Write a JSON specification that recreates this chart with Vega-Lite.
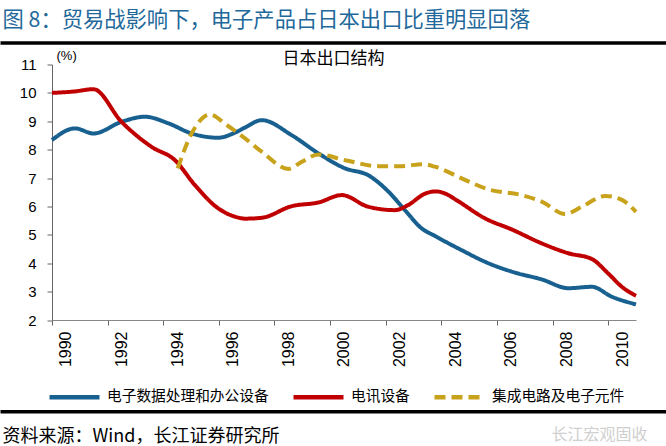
{
  "$schema": "https://vega.github.io/schema/vega-lite/v6.json",
  "width": 584,
  "height": 255.5,
  "autosize": {"type": "none"},
  "padding": {"left": 52, "top": 64.5, "right": 30, "bottom": 126},
  "background": "white",
  "config": {"view": {"stroke": null}, "font": "Liberation Sans"},
  "data": {"values": [
    {"s": "电子数据处理和办公设备", "t": 1990.0, "v": 8.34},
    {"s": "电子数据处理和办公设备", "t": 1990.83, "v": 8.75},
    {"s": "电子数据处理和办公设备", "t": 1991.49, "v": 8.57},
    {"s": "电子数据处理和办公设备", "t": 1992.5, "v": 8.98},
    {"s": "电子数据处理和办公设备", "t": 1993.34, "v": 9.16},
    {"s": "电子数据处理和办公设备", "t": 1994.18, "v": 8.93},
    {"s": "电子数据处理和办公设备", "t": 1995.02, "v": 8.57},
    {"s": "电子数据处理和办公设备", "t": 1995.98, "v": 8.42},
    {"s": "电子数据处理和办公设备", "t": 1996.58, "v": 8.6},
    {"s": "电子数据处理和办公设备", "t": 1996.94, "v": 8.78},
    {"s": "电子数据处理和办公设备", "t": 1997.54, "v": 9.04},
    {"s": "电子数据处理和办公设备", "t": 1998.62, "v": 8.51},
    {"s": "电子数据处理和办公设备", "t": 1999.58, "v": 7.87},
    {"s": "电子数据处理和办公设备", "t": 2000.54, "v": 7.34},
    {"s": "电子数据处理和办公设备", "t": 2001.37, "v": 7.1},
    {"s": "电子数据处理和办公设备", "t": 2002.1, "v": 6.52},
    {"s": "电子数据处理和办公设备", "t": 2002.69, "v": 5.87},
    {"s": "电子数据处理和办公设备", "t": 2003.29, "v": 5.23},
    {"s": "电子数据处理和办公设备", "t": 2003.77, "v": 4.96},
    {"s": "电子数据处理和办公设备", "t": 2004.73, "v": 4.46},
    {"s": "电子数据处理和办公设备", "t": 2005.69, "v": 4.0},
    {"s": "电子数据处理和办公设备", "t": 2006.65, "v": 3.67},
    {"s": "电子数据处理和办公设备", "t": 2007.61, "v": 3.43},
    {"s": "电子数据处理和办公设备", "t": 2008.57, "v": 3.12},
    {"s": "电子数据处理和办公设备", "t": 2009.41, "v": 3.17},
    {"s": "电子数据处理和办公设备", "t": 2010.13, "v": 2.82},
    {"s": "电子数据处理和办公设备", "t": 2011.0, "v": 2.55},
    {"s": "电讯设备", "t": 1990.0, "v": 10.0},
    {"s": "电讯设备", "t": 1990.8, "v": 10.05},
    {"s": "电讯设备", "t": 1991.49, "v": 10.13},
    {"s": "电讯设备", "t": 1992.5, "v": 8.98},
    {"s": "电讯设备", "t": 1993.58, "v": 8.1},
    {"s": "电讯设备", "t": 1994.42, "v": 7.63},
    {"s": "电讯设备", "t": 1995.14, "v": 6.75},
    {"s": "电讯设备", "t": 1995.98, "v": 5.93},
    {"s": "电讯设备", "t": 1996.58, "v": 5.64},
    {"s": "电讯设备", "t": 1996.94, "v": 5.57},
    {"s": "电讯设备", "t": 1997.54, "v": 5.6},
    {"s": "电讯设备", "t": 1998.62, "v": 6.01},
    {"s": "电讯设备", "t": 1999.58, "v": 6.14},
    {"s": "电讯设备", "t": 2000.42, "v": 6.4},
    {"s": "电讯设备", "t": 2001.37, "v": 5.99},
    {"s": "电讯设备", "t": 2002.33, "v": 5.87},
    {"s": "电讯设备", "t": 2002.81, "v": 6.05},
    {"s": "电讯设备", "t": 2003.41, "v": 6.45},
    {"s": "电讯设备", "t": 2003.8, "v": 6.53},
    {"s": "电讯设备", "t": 2004.15, "v": 6.45},
    {"s": "电讯设备", "t": 2004.55, "v": 6.22},
    {"s": "电讯设备", "t": 2005.57, "v": 5.58},
    {"s": "电讯设备", "t": 2006.53, "v": 5.19},
    {"s": "电讯设备", "t": 2007.61, "v": 4.7},
    {"s": "电讯设备", "t": 2008.57, "v": 4.35},
    {"s": "电讯设备", "t": 2009.41, "v": 4.15},
    {"s": "电讯设备", "t": 2010.0, "v": 3.64},
    {"s": "电讯设备", "t": 2010.49, "v": 3.17},
    {"s": "电讯设备", "t": 2011.0, "v": 2.85},
    {"s": "集成电路及电子元件", "t": 1994.52, "v": 7.34},
    {"s": "集成电路及电子元件", "t": 1995.02, "v": 8.57},
    {"s": "集成电路及电子元件", "t": 1995.68, "v": 9.24},
    {"s": "集成电路及电子元件", "t": 1996.28, "v": 8.87},
    {"s": "集成电路及电子元件", "t": 1996.94, "v": 8.4},
    {"s": "集成电路及电子元件", "t": 1997.54, "v": 7.93},
    {"s": "集成电路及电子元件", "t": 1998.5, "v": 7.32},
    {"s": "集成电路及电子元件", "t": 1998.98, "v": 7.57},
    {"s": "集成电路及电子元件", "t": 1999.58, "v": 7.83},
    {"s": "集成电路及电子元件", "t": 2000.54, "v": 7.63},
    {"s": "集成电路及电子元件", "t": 2001.73, "v": 7.42},
    {"s": "集成电路及电子元件", "t": 2002.57, "v": 7.42},
    {"s": "集成电路及电子元件", "t": 2003.35, "v": 7.49},
    {"s": "集成电路及电子元件", "t": 2003.77, "v": 7.4},
    {"s": "集成电路及电子元件", "t": 2004.73, "v": 6.99},
    {"s": "集成电路及电子元件", "t": 2005.69, "v": 6.6},
    {"s": "集成电路及电子元件", "t": 2006.89, "v": 6.4},
    {"s": "集成电路及电子元件", "t": 2007.61, "v": 6.17},
    {"s": "集成电路及电子元件", "t": 2008.45, "v": 5.73},
    {"s": "集成电路及电子元件", "t": 2009.05, "v": 5.99},
    {"s": "集成电路及电子元件", "t": 2009.89, "v": 6.37},
    {"s": "集成电路及电子元件", "t": 2010.49, "v": 6.23},
    {"s": "集成电路及电子元件", "t": 2011.0, "v": 5.81}
  ]},
  "layer": [
    {
      "mark": {"type": "line", "strokeWidth": 4, "interpolate": "monotone", "strokeCap": "butt", "strokeJoin": "round"},
      "encoding": {
        "x": {
          "field": "t", "type": "quantitative",
          "scale": {"domain": [1990, 2011], "nice": false, "zero": false},
          "axis": {
            "orient": "bottom",
            "values": [1990, 1992, 1994, 1996, 1998, 2000, 2002, 2004, 2006, 2008, 2010],
            "format": "d", "labelAngle": 270, "labelOffset": 13.9, "labelPadding": 6,
            "labelFont": "Liberation Sans", "labelFontSize": 16, "labelColor": "#000",
            "labelOverlap": false, "labelFlush": false, "labelBound": false,
            "tickSize": 5, "tickColor": "#666", "domainColor": "#888", "grid": false,
            "title": "长江宏观固收", "titleX": 547, "titleY": 119.5, "titleAlign": "center",
            "titleBaseline": "alphabetic", "titleFont": "Noto Sans CJK SC", "titleFontSize": 16,
            "titleFontWeight": "normal", "titleColor": "#cfcfcf"
          }
        },
        "y": {
          "field": "v", "type": "quantitative",
          "scale": {"domain": [2, 11], "nice": false, "zero": false},
          "axis": {
            "orient": "left",
            "values": [2, 3, 4, 5, 6, 7, 8, 9, 10, 11], "format": "d",
            "labelFont": "Liberation Sans", "labelFontSize": 15, "labelColor": "#000", "labelPadding": 11,
            "tickSize": 5, "tickColor": "#666", "domainColor": "#666", "grid": false,
            "title": "(%)", "titleAngle": 0, "titleX": 4, "titleY": -5.5, "titleAlign": "left",
            "titleBaseline": "alphabetic", "titleFont": "Liberation Sans", "titleFontSize": 13,
            "titleFontWeight": "normal", "titleColor": "#000"
          }
        },
        "color": {
          "field": "s", "type": "nominal", "title": null,
          "scale": {"domain": ["电子数据处理和办公设备", "电讯设备", "集成电路及电子元件"], "range": ["#17608F", "#C00000", "#C9A21B"]},
          "legend": {"orient": "none", "legendX": -5, "legendY": 305, "direction": "horizontal", "symbolType": "stroke", "symbolSize": 2500, "symbolStrokeWidth": 4.5, "labelFont": "Noto Sans CJK SC", "labelFontSize": 14.7, "labelColor": "#000", "labelOffset": 5, "columnPadding": 15, "labelLimit": 0, "padding": 0}
        },
        "strokeDash": {
          "field": "s", "type": "nominal", "title": null,
          "scale": {"domain": ["电子数据处理和办公设备", "电讯设备", "集成电路及电子元件"], "range": [[1, 0], [1, 0], [11, 6]]},
          "legend": {"orient": "none", "legendX": -5, "legendY": 305, "direction": "horizontal", "symbolType": "stroke", "symbolSize": 2500, "symbolStrokeWidth": 4.5, "labelFont": "Noto Sans CJK SC", "labelFontSize": 14.7, "labelColor": "#000", "labelOffset": 5, "columnPadding": 15, "labelLimit": 0, "padding": 0}
        }
      }
    },
    {
      "mark": {"type": "point", "opacity": 0},
      "encoding": {
        "x": {
          "field": "t", "type": "quantitative",
          "scale": {"domain": [1990, 2011], "range": [-52, 614], "nice": false, "zero": false},
          "axis": {
            "orient": "top", "offset": 22, "domain": true, "domainColor": "#000", "domainWidth": 3.5,
            "ticks": false, "labels": false, "grid": false,
            "title": "图 8：贸易战影响下，电子产品占日本出口比重明显回落",
            "titleX": -50, "titleY": -16.5, "titleAlign": "left", "titleBaseline": "alphabetic",
            "titleFont": "Noto Sans CJK SC", "titleFontSize": 21.3, "titleFontWeight": "normal", "titleColor": "#22689A"
          }
        },
        "y": {
          "field": "v", "type": "quantitative",
          "scale": {"domain": [2, 11], "nice": false, "zero": false},
          "axis": {
            "orient": "right", "domain": false, "ticks": false, "labels": false, "grid": false,
            "title": "日本出口结构", "titleAngle": 0, "titleX": -303, "titleY": -1, "titleAlign": "center",
            "titleBaseline": "alphabetic", "titleFont": "Noto Sans CJK SC", "titleFontSize": 17,
            "titleFontWeight": "normal", "titleColor": "#000"
          }
        }
      }
    },
    {
      "mark": {"type": "point", "opacity": 0},
      "encoding": {
        "x": {
          "field": "t", "type": "quantitative",
          "scale": {"domain": [1990, 2011], "range": [-52, 614], "nice": false, "zero": false},
          "axis": {
            "orient": "bottom", "offset": 91.3, "domain": true, "domainColor": "#000", "domainWidth": 3.5,
            "ticks": false, "labels": false, "grid": false,
            "title": "资料来源：Wind，长江证券研究所",
            "titleX": -50, "titleY": 30.2, "titleAlign": "left", "titleBaseline": "alphabetic",
            "titleFont": "Noto Sans CJK SC", "titleFontSize": 18, "titleFontWeight": "normal", "titleColor": "#000"
          }
        }
      }
    }
  ],
  "resolve": {"scale": {"x": "independent", "y": "independent"}, "axis": {"x": "independent", "y": "independent"}}
}
